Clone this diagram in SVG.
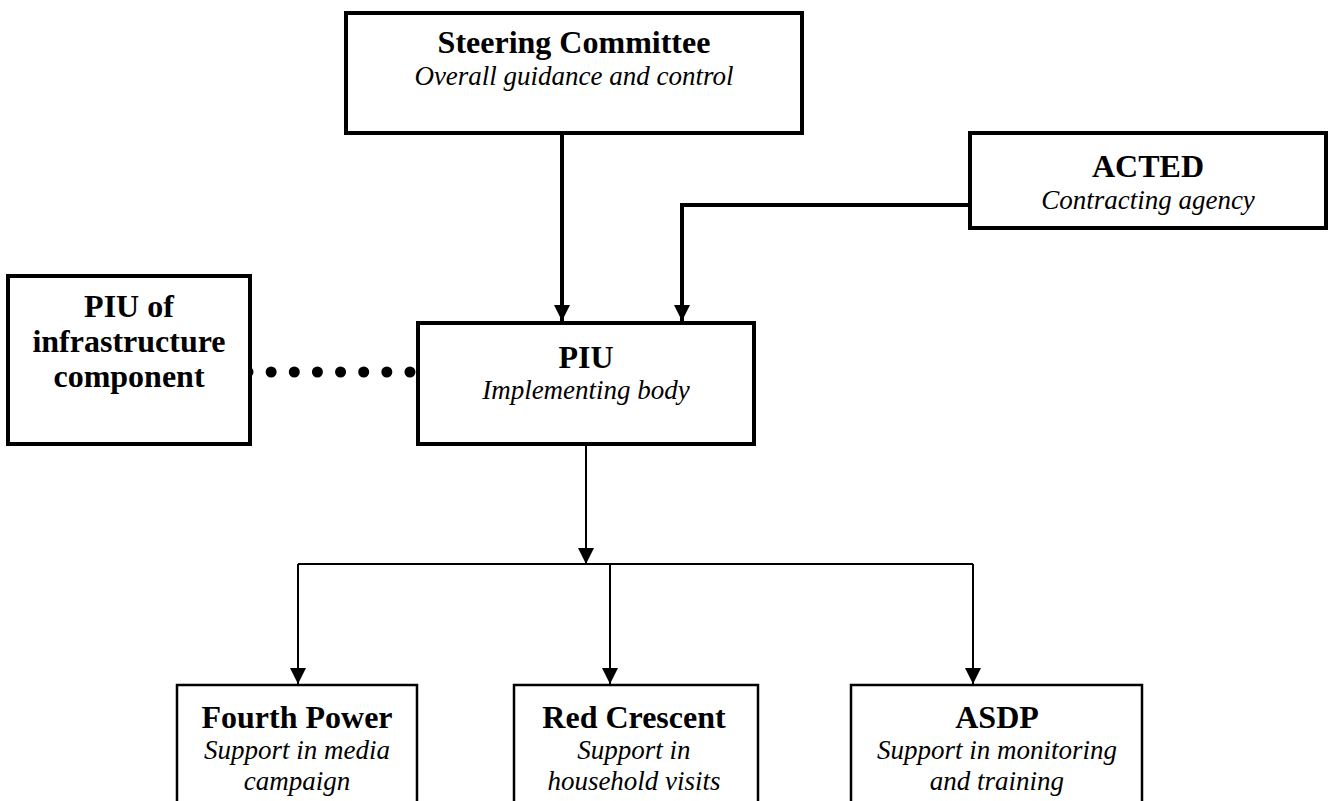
<svg xmlns="http://www.w3.org/2000/svg" width="1335" height="801" viewBox="0 0 1335 801">
<style>
.box{fill:#fff;stroke:#000;stroke-width:4}
.box2{fill:#fff;stroke:#000;stroke-width:2.5}
.t{font-family:"Liberation Serif","Times New Roman",serif;font-weight:bold;font-size:32px;text-anchor:middle;fill:#000}
.s{font-family:"Liberation Serif","Times New Roman",serif;font-style:italic;font-size:27px;text-anchor:middle;fill:#000}
.thick{fill:none;stroke:#000;stroke-width:4}
.thin{fill:none;stroke:#000;stroke-width:2}
</style>
<defs>
<marker id="ah" markerUnits="userSpaceOnUse" markerWidth="16" markerHeight="16" refX="15" refY="7.5" orient="auto" viewBox="0 0 15 15">
<path d="M0,0 L15,7.5 L0,15 Z" fill="#000"/>
</marker>
</defs>
<g id="connectors">
<path class="thick" d="M562,133 L562,321" marker-end="url(#ah)"/>
<path class="thick" d="M970,205 L682,205 L682,321" marker-end="url(#ah)"/>
<line x1="248" y1="372" x2="410" y2="372" stroke="#000" stroke-width="11" stroke-linecap="round" stroke-dasharray="0 23.14"/>
<path class="thin" d="M586,444 L586,564" marker-end="url(#ah)"/>
<path class="thin" d="M298,564 L973,564"/>
<path class="thin" d="M298,564 L298,684" marker-end="url(#ah)"/>
<path class="thin" d="M610,564 L610,684" marker-end="url(#ah)"/>
<path class="thin" d="M973,564 L973,684" marker-end="url(#ah)"/>
</g>
<g id="steering">
<rect class="box" x="346" y="13" width="456" height="120"/>
<text class="t" x="574" y="53">Steering Committee</text>
<text class="s" x="574" y="85">Overall guidance and control</text>
</g>
<g id="acted">
<rect class="box" x="970" y="133" width="356" height="95"/>
<text class="t" x="1148" y="177">ACTED</text>
<text class="s" x="1148" y="209">Contracting agency</text>
</g>
<g id="piu">
<rect class="box" x="418" y="323" width="336" height="121"/>
<text class="t" x="586" y="368">PIU</text>
<text class="s" x="586" y="399">Implementing body</text>
</g>
<g id="piu-infra">
<rect class="box" x="8" y="276" width="242" height="168"/>
<text class="t" x="129" y="317">PIU of</text>
<text class="t" x="129" y="352">infrastructure</text>
<text class="t" x="129" y="387">component</text>
</g>
<g id="fourth-power">
<rect class="box2" x="177" y="685" width="240" height="130"/>
<text class="t" x="297" y="728">Fourth Power</text>
<text class="s" x="297" y="759">Support in media</text>
<text class="s" x="297" y="790">campaign</text>
</g>
<g id="red-crescent">
<rect class="box2" x="514" y="685" width="244" height="130"/>
<text class="t" x="634" y="728">Red Crescent</text>
<text class="s" x="634" y="759">Support in</text>
<text class="s" x="634" y="790">household visits</text>
</g>
<g id="asdp">
<rect class="box2" x="851" y="685" width="291" height="130"/>
<text class="t" x="997" y="728">ASDP</text>
<text class="s" x="997" y="759">Support in monitoring</text>
<text class="s" x="997" y="790">and training</text>
</g>
</svg>
